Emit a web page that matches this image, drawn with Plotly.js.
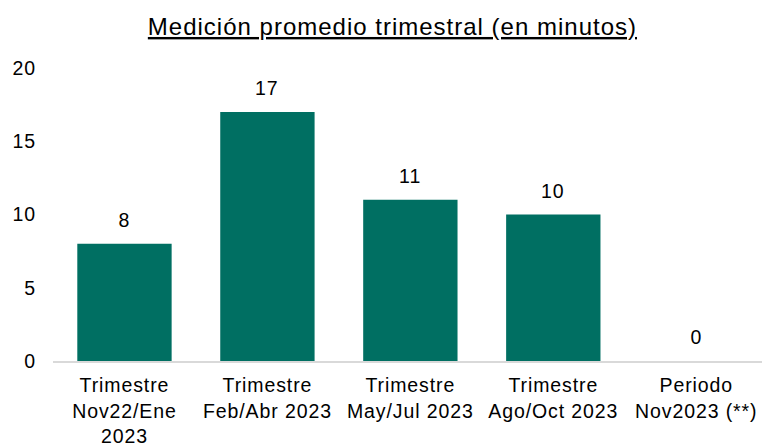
<!DOCTYPE html>
<html>
<head>
<meta charset="utf-8">
<script src="https://cdn.plot.ly/plotly-3.0.1.min.js"></script>
<style>
html,body{margin:0;padding:0;background:#fff;}
#chart{width:762px;height:443px;}
#chart .xtick text, #chart .ytick text, #chart .annotation-text {letter-spacing:0.9px;}
#chart .gtitle {letter-spacing:1px;}
</style>
</head>
<body>
<div id="chart"></div>
<script>
const categories = ["Trimestre<br>Nov22/Ene<br>2023", "Trimestre<br>Feb/Abr 2023", "Trimestre<br>May/Jul 2023", "Trimestre<br>Ago/Oct 2023", "Periodo<br>Nov2023 (**)"];
const values = [8, 17, 11, 10, 0];
const yTicks = [0, 5, 10, 15, 20];
const titleText = "Medición promedio trimestral (en minutos)";

const baseFont = {family: "Liberation Sans, Arial, sans-serif", size: 19.5, color: "#000"};

const trace = {
  type: "bar",
  x: categories,
  y: values,
  marker: {color: "#006F62"},
  width: 0.66,
  hoverinfo: "none"
};

const annotations = categories.map((c, i) => ({
  x: c, y: values[i], xref: "x", yref: "y",
  text: String(values[i]),
  showarrow: false,
  yanchor: "bottom",
  yshift: 11,
  font: baseFont
}));

const layout = {
  width: 762, height: 443,
  margin: {l: 53, r: 0, t: 68, b: 82},
  paper_bgcolor: "#fff", plot_bgcolor: "#fff",
  showlegend: false,
  title: {text: "<u>" + titleText + "</u>", x: 0.515, xanchor: "center", y: 0.94, yanchor: "middle",
          font: {family: "Liberation Sans Narrow, Arial Narrow, Liberation Sans, sans-serif", size: 24, color: "#000"}},
  xaxis: {
    type: "category",
    range: [-0.5, 4.46],
    showline: true, linecolor: "#D9D9D9", linewidth: 2,
    showgrid: false, zeroline: false, ticks: "",
    ticklabelstandoff: 6,
    tickfont: baseFont,
    automargin: false
  },
  yaxis: {
    range: [0, 20],
    tickvals: yTicks,
    ticktext: yTicks.map(String),
    showline: false, showgrid: false, zeroline: false, ticks: "",
    ticklabelstandoff: 16,
    tickfont: baseFont,
    automargin: false
  },
  annotations: annotations,
  bargap: 0.34
};

Plotly.newPlot("chart", [trace], layout, {displayModeBar: false, staticPlot: true});
</script>
</body>
</html>
